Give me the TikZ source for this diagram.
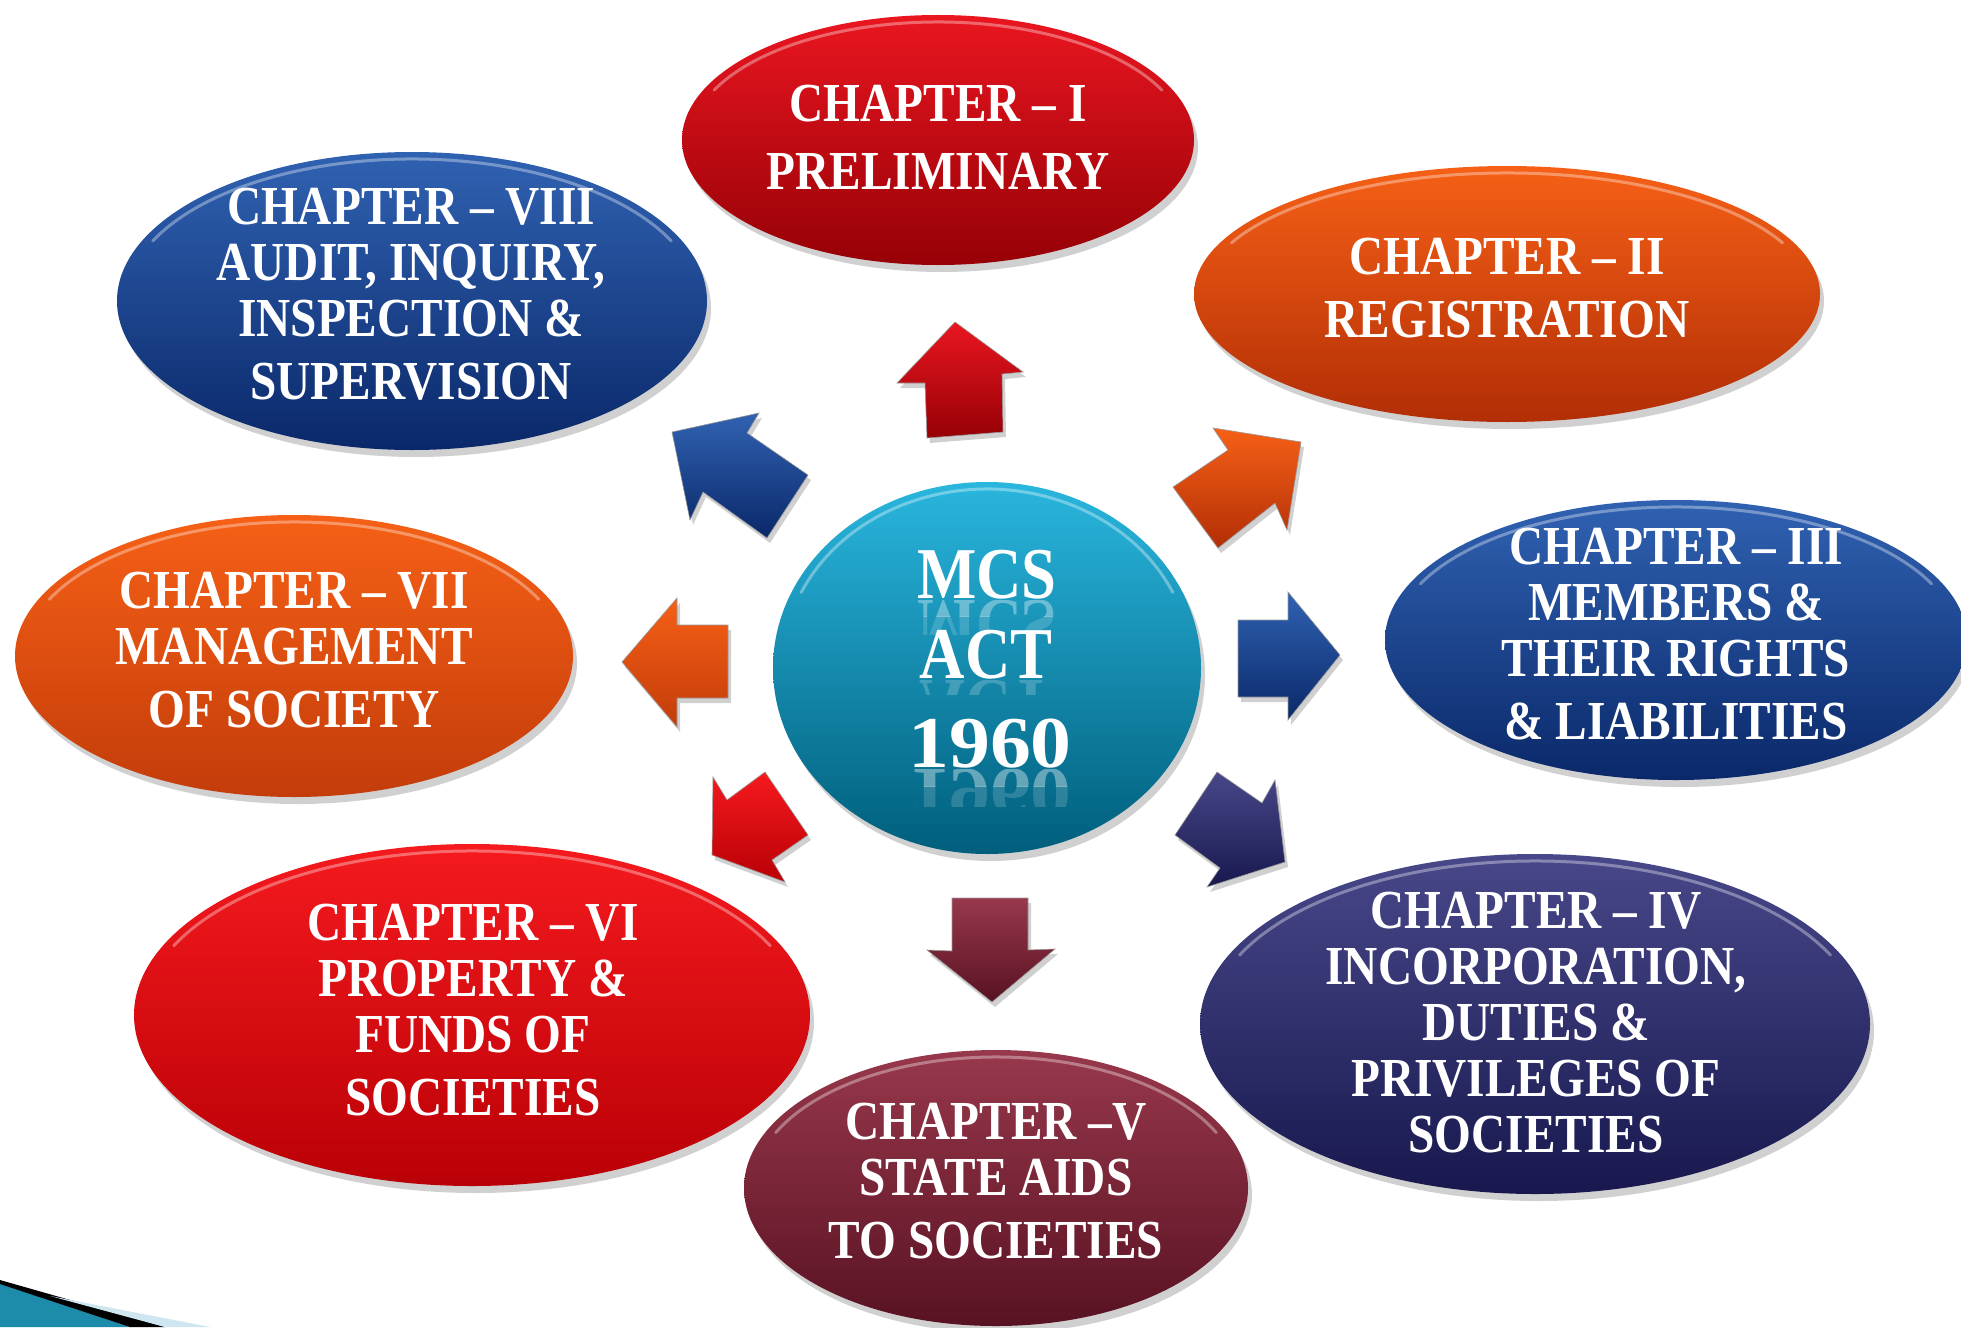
\documentclass[tikz,border=0pt]{standalone}
\usepackage{graphicx}
\usepackage{fontspec}
\newfontfamily\cf[FakeStretch=0.86]{Liberation Serif}
\newfontfamily\cfw[FakeStretch=1.12]{Liberation Serif}
\usetikzlibrary{shapes.geometric,shadows}
\definecolor{redT}{RGB}{234,22,32}\definecolor{redB}{RGB}{150,0,6}
\definecolor{red2T}{RGB}{245,26,30}\definecolor{red2B}{RGB}{185,0,6}
\definecolor{orT}{RGB}{246,96,22}\definecolor{orB}{RGB}{178,46,6}
\definecolor{or2T}{RGB}{246,96,22}\definecolor{or2B}{RGB}{195,60,10}
\definecolor{blT}{RGB}{48,98,178}\definecolor{blB}{RGB}{10,40,105}
\definecolor{nvT}{RGB}{72,72,138}\definecolor{nvB}{RGB}{24,24,78}
\definecolor{mrT}{RGB}{152,56,76}\definecolor{mrB}{RGB}{88,18,34}
\definecolor{cyT}{RGB}{42,182,222}\definecolor{cyB}{RGB}{0,94,124}
\definecolor{teal1}{RGB}{28,140,170}\definecolor{ltblue}{RGB}{205,230,240}
\tikzset{
  chap/.style={ellipse, inner sep=0pt, draw=none,
    drop shadow={shadow xshift=4pt, shadow yshift=-7pt, opacity=0.3, fill=black!60}},
  ctext/.style={text=white, font=\cf\bfseries\fontsize{55}{56}\selectfont, align=center, inner sep=0pt},
  btext/.style={text=white, font=\cf\bfseries\fontsize{73}{73}\selectfont, inner sep=0pt, anchor=base},
  ytext/.style={text=white, font=\cfw\bfseries\fontsize{73}{73}\selectfont, inner sep=0pt, anchor=base},
  rtext/.style={btext, text opacity=#1},
  rytext/.style={ytext, text opacity=#1},
  hl/.style={white, opacity=0.35, line width=3pt, line cap=round},
  arrsty/.style={draw=black!40, line width=0.6pt,
    drop shadow={shadow xshift=3pt, shadow yshift=-5pt, opacity=0.3, fill=black!60}}
}
\newcommand\chapell[7]{%
  \node[chap, top color=#6, bottom color=#7, minimum width={2*#4}, minimum height={2*#5}] (#1) at (#2,#3) {};
  \draw[hl] (#2,#3) ++(205:{#4-9} and {#5-7}) arc[start angle=205, end angle=335, x radius={#4-9}, y radius={#5-7}];
}
\begin{document}
\begin{tikzpicture}[x=1pt,y=-1pt]
\useasboundingbox (0,0) rectangle (1961,1327);
\fill[white] (0,0) rectangle (1961,1327);

% ellipses
\chapell{e1}{938}{140}{256}{125}{redT}{redB}
\chapell{e2}{1507}{294}{313}{128}{orT}{orB}
\chapell{e3}{1676}{640}{291}{140}{blT}{blB}
\chapell{e4}{1535}{1024}{335}{170}{nvT}{nvB}
\chapell{e6}{472}{1015}{338}{171}{red2T}{red2B}
\chapell{e5}{996}{1188}{252}{138}{mrT}{mrB}
\chapell{e7}{294}{656}{279}{141}{or2T}{or2B}
\chapell{e8}{412}{301}{295}{149}{blT}{blB}
\chapell{mc}{987}{668}{214}{186}{cyT}{cyB}

% arrows
\path[arrsty, top color=redT, bottom color=redB] (955,322) -- (1023,372) -- (1002,374) -- (1003,432) -- (927,438) -- (925,383) -- (897,383) -- cycle;
\path[arrsty, top color=orT, bottom color=orB] (1301,442) -- (1287,530) -- (1275,503) -- (1218,548) -- (1173,487) -- (1228,450) -- (1213,428) -- cycle;
\path[arrsty, top color=blT, bottom color=blB] (1340,655) -- (1288,720) -- (1288,697) -- (1238,697) -- (1238,620) -- (1288,620) -- (1288,592) -- cycle;
\path[arrsty, top color=nvT, bottom color=nvB] (1285,862) -- (1207,887) -- (1220,868) -- (1175,835) -- (1217,772) -- (1262,803) -- (1275,780) -- cycle;
\path[arrsty, top color=mrT, bottom color=mrB] (992,1002) -- (927,950) -- (952,951) -- (952,898) -- (1028,898) -- (1028,950) -- (1055,949) -- cycle;
\path[arrsty, top color=red2T, bottom color=red2B] (712,855) -- (713,777) -- (727,800) -- (765,772) -- (808,835) -- (772,860) -- (785,882) -- cycle;
\path[arrsty, top color=or2T, bottom color=or2B] (622,662) -- (677,598) -- (677,625) -- (728,625) -- (728,698) -- (677,698) -- (677,727) -- cycle;
\path[arrsty, top color=blT, bottom color=blB] (672,432) -- (759,413) -- (747,433) -- (808,475) -- (767,538) -- (703,492) -- (690,520) -- cycle;

% chapter texts
\node[ctext] (t1) at (938,137) {CHAPTER – I\\[12pt]PRELIMINARY};
\node[ctext] (t2) at (1507,288) {CHAPTER – II\\[7pt]REGISTRATION};
\node[ctext] (t3) at (1676,634) {CHAPTER – III\\MEMBERS \&\\THEIR RIGHTS\\[7pt]\& LIABILITIES};
\node[ctext] (t4) at (1536,1023) {CHAPTER – IV\\INCORPORATION,\\DUTIES \&\\PRIVILEGES OF\\SOCIETIES};
\node[ctext] (t5) at (996,1181) {CHAPTER –V\\STATE AIDS\\[7pt]TO SOCIETIES};
\node[ctext] (t6) at (473,1010) {CHAPTER – VI\\PROPERTY \&\\FUNDS OF\\[7pt]SOCIETIES};
\node[ctext] (t7) at (294,650) {CHAPTER – VII\\MANAGEMENT\\[7pt]OF SOCIETY};
\node[ctext] (t8) at (411,294) {CHAPTER – VIII\\AUDIT, INQUIRY,\\INSPECTION \&\\[7pt]SUPERVISION};

% reflections
\begin{scope}
  \clip (860,600) rectangle (1110,616);
  \node[rtext=0.35] (rmcs) at (987,600) {\scalebox{1}[-1]{MCS}};
\end{scope}
\begin{scope}
  \clip (860,616) rectangle (1110,634);
  \node[rtext=0.16] (rmcs2) at (987,600) {\scalebox{1}[-1]{MCS}};
\end{scope}
\begin{scope}
  \clip (860,680) rectangle (1110,694);
  \node[rtext=0.2] (ract) at (986,680) {\scalebox{1}[-1]{ACT}};
\end{scope}
\begin{scope}
  \clip (860,769) rectangle (1110,786);
  \node[rytext=0.38] (ryr) at (990,769) {\scalebox{1}[-1]{1960}};
\end{scope}
\begin{scope}
  \clip (860,786) rectangle (1110,806);
  \node[rytext=0.16] (ryr2) at (990,769) {\scalebox{1}[-1]{1960}};
\end{scope}

% centre texts
\node[btext] (mcs) at (987,598) {MCS};
\node[btext] (act) at (986,678) {ACT};
\node[ytext] (yr) at (990,767) {1960};

% corner decoration
\fill[teal1] (0,1283) -- (130,1327) -- (0,1327) -- cycle;
\fill[black] (0,1280) -- (165,1327) -- (130,1327) -- (0,1284) -- cycle;
\fill[ltblue] (50,1296) -- (210,1327) -- (165,1327) -- cycle;
\end{tikzpicture}
\end{document}
